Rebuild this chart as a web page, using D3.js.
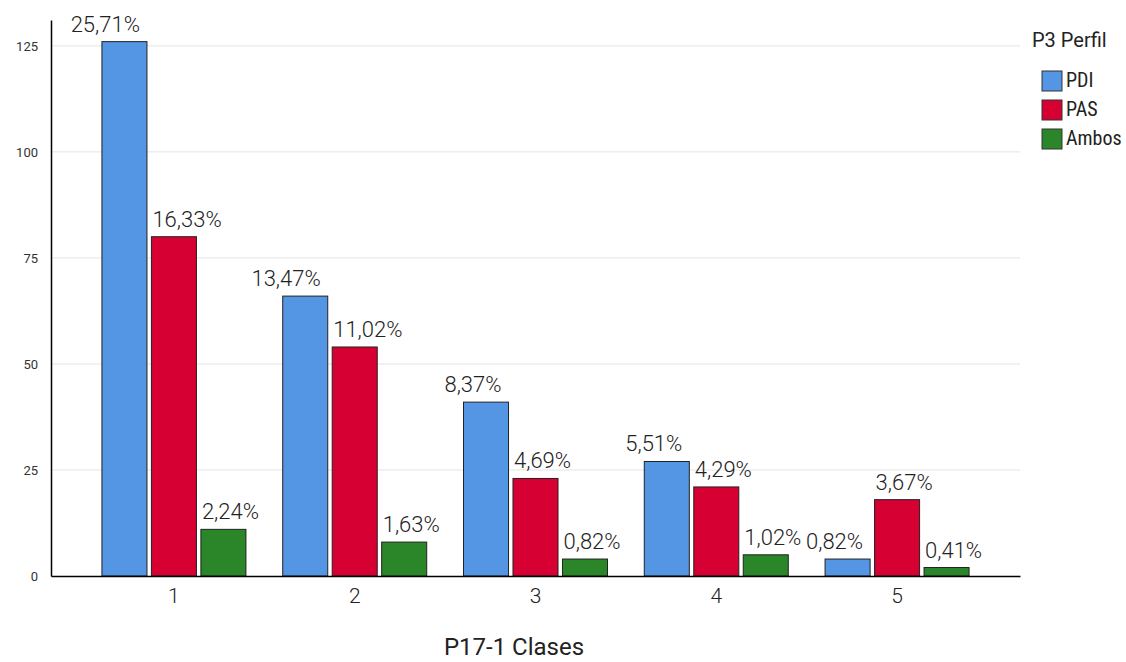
<!DOCTYPE html>
<html><head><meta charset="utf-8">
<script src="https://cdn.jsdelivr.net/npm/d3@7"></script>
<style>
html,body{margin:0;padding:0;background:#fff;}
svg{display:block;}
</style></head>
<body>
<svg id="chart" width="1126" height="662"></svg>
<script>
const categories = ["1","2","3","4","5"];
const seriesNames = ["PDI","PAS","Ambos"];
const seriesColors = ["#5495E4","#D60032","#2A8628"];
const pdiValues = [126, 66, 41, 27, 4];
const pasValues = [80, 54, 23, 21, 18];
const ambosValues = [11, 8, 4, 5, 2];
const pdiLabels = ["25,71%","13,47%","8,37%","5,51%","0,82%"];
const pasLabels = ["16,33%","11,02%","4,69%","4,29%","3,67%"];
const ambosLabels = ["2,24%","1,63%","0,82%","1,02%","0,41%"];
const yTicks = [0, 25, 50, 75, 100, 125];
const xTitle = "P17-1 Clases";
const legendTitle = "P3 Perfil";

const seriesValues = [pdiValues, pasValues, ambosValues];
const seriesLabels = [pdiLabels, pasLabels, ambosLabels];

const svg = d3.select("#chart");
const mLeft = 51, mRight = 1020, mTop = 20, mBottom = 576;
const groupW = 144;

const x = d3.scaleBand().domain(categories).range([mLeft, mRight]).paddingInner(0).paddingOuter(0.18);
const x1 = d3.scaleBand().domain(seriesNames).range([0, groupW]).paddingInner(0.09).paddingOuter(0);
const y = d3.scaleLinear().domain([0, 131.1]).range([mBottom, mTop]);

// gridlines
svg.append("g").selectAll("line").data(yTicks.filter(d => d > 0)).join("line")
  .attr("x1", mLeft).attr("x2", mRight)
  .attr("y1", d => y(d)).attr("y2", d => y(d))
  .attr("stroke", "#e4e4e4").attr("stroke-width", 1);

// y axis
const yAxis = d3.axisLeft(y).tickValues(yTicks).tickSize(0).tickPadding(13);
const gy = svg.append("g").attr("transform", `translate(${mLeft},0)`).call(yAxis);
gy.select(".domain").attr("stroke", "#000").attr("stroke-width", 1.5);
gy.selectAll("text").attr("font-family", "Roboto, sans-serif").attr("font-size", 13).attr("fill", "#333");

// bars
const groups = svg.append("g").selectAll("g").data(categories).join("g")
  .attr("transform", d => `translate(${x(d) + x.bandwidth()/2 - groupW/2},0)`);

groups.each(function(cat, ci) {
  const g = d3.select(this);
  seriesNames.forEach((s, si) => {
    const v = seriesValues[si][ci];
    g.append("rect")
      .attr("x", x1(s)).attr("width", x1.bandwidth())
      .attr("y", y(v)).attr("height", y(0) - y(v))
      .attr("fill", seriesColors[si]).attr("stroke", "#222").attr("stroke-width", 1);
  });
  // labels: first series right-aligned inside bar edge, others start at bar left
  seriesNames.forEach((s, si) => {
    const v = seriesValues[si][ci];
    const first = si === 0;
    g.append("text")
      .attr("x", first ? x1(s) + x1.bandwidth() - 7 : x1(s) + 1)
      .attr("y", y(v) - 10)
      .attr("text-anchor", first ? "end" : "start")
      .attr("font-family", "Roboto, sans-serif").attr("font-size", 22).attr("font-weight", 300)
      .attr("fill", "#222")
      .text(seriesLabels[si][ci]);
  });
});

// x axis
const xAxis = d3.axisBottom(x).tickSize(0).tickPadding(12);
const gx = svg.append("g").attr("transform", `translate(0,${mBottom})`).call(xAxis);
gx.select(".domain").attr("stroke", "#000").attr("stroke-width", 1.5);
gx.selectAll("text").attr("font-family", "Roboto, sans-serif").attr("font-size", 21).attr("font-weight", 300).attr("fill", "#222");

// x title
svg.append("text").attr("x", 514).attr("y", 655).attr("text-anchor", "middle")
  .attr("font-family", "Roboto, sans-serif").attr("font-size", 24).attr("fill", "#222")
  .text(xTitle);

// legend
const lg = svg.append("g");
lg.append("text").attr("x", 1032).attr("y", 47)
  .attr("font-family", "Roboto, sans-serif").attr("font-size", 20).attr("fill", "#222").text(legendTitle);
const items = lg.selectAll("g").data(seriesNames).join("g")
  .attr("transform", (d, i) => `translate(1042,${71 + i * 29})`);
items.append("rect").attr("width", 20).attr("height", 20)
  .attr("fill", (d, i) => seriesColors[i]).attr("stroke", "#333").attr("stroke-width", 1);
items.append("text").attr("x", 24).attr("y", 15.5)
  .attr("font-family", "'Liberation Sans Narrow', 'Roboto Condensed', Roboto, sans-serif").attr("font-size", 20).attr("fill", "#222")
  .text(d => d);
</script>
</body></html>
